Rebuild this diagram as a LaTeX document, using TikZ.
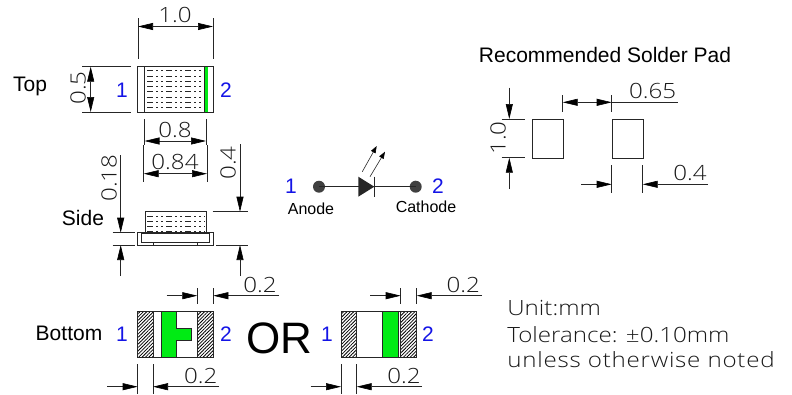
\documentclass[tikz,border=0pt]{standalone}
\usepackage{fontspec}
\setmainfont{Liberation Sans}
\newfontfamily\dimfont[FakeStretch=1.15]{Open Sans Light}
\usetikzlibrary{arrows.meta,patterns.meta}
\definecolor{ledgreen}{RGB}{0,235,20}
\definecolor{pinblue}{RGB}{20,20,230}

\begin{document}
\begin{tikzpicture}[x=1pt,y=-1pt,line width=0.7pt,color=black!85]
  \tikzstyle{dimline}=[line width=0.6pt,black!85]
  \tikzstyle{dimtip}=[dimline,-{Triangle[length=15pt,width=7pt,color=black,fill=black]}]
  \tikzstyle{dimboth}=[dimline,{Triangle[length=15pt,width=7pt,color=black,fill=black]}-{Triangle[length=15pt,width=7pt,color=black,fill=black]}]
  \tikzstyle{dimtext}=[inner sep=0pt,text=black!90,font=\dimfont\fontsize{21}{21}\selectfont]
  \tikzstyle{pinlabel}=[inner sep=0pt,text=pinblue,font=\fontsize{21}{21}\selectfont]
  \tikzstyle{viewlabel}=[inner sep=0pt,text=black,font=\fontsize{21}{21}\selectfont]
  \tikzstyle{smalllabel}=[inner sep=0pt,text=black,font=\fontsize{16}{16}\selectfont]
  \tikzstyle{fillrows}=[line width=0.6pt,black!85,dash pattern=on 6pt off 3pt on 2pt off 3pt on 2pt off 3pt]
  \tikzstyle{hatched}=[draw,line width=0.9pt,pattern={Lines[angle=45,distance=2.4pt,line width=0.8pt]},pattern color=black]
  \tikzstyle{note}=[inner sep=0pt,anchor=west,text=black!90,font=\dimfont\fontsize{21}{21}\selectfont]

  \useasboundingbox (0,0) rectangle (792,394);

  % top view
  \draw[line width=1pt] (137.7,66.7) rectangle (213.3,112);
  \draw[line width=1.2pt] (144.3,66.7) -- (144.3,112);
  \fill[ledgreen] (204,66.7) rectangle (207.5,112);
  \draw[line width=0.8pt] (204,66.7) -- (204,112);
  \foreach \y in {70.5,75.8,81,86.3,91.5,96.8,102,107.3}
    \draw[fillrows] (147,\y) -- (203,\y);

  \draw[dimline] (138,18) -- (138,59);
  \draw[dimline] (213,18) -- (213,59);
  \draw[dimboth] (138,26.5) -- (213,26.5);
  \node[dimtext] (top-w) at (175,15) {1.0};

  \draw[dimline] (82,66.7) -- (131,66.7);
  \draw[dimline] (82,112) -- (131,112);
  \draw[dimboth] (90.7,66.7) -- (90.7,112);
  \node[dimtext,rotate=90] (top-h) at (78,88) {0.5};

  \draw[dimline] (144.5,119) -- (144.5,145);
  \draw[dimline] (206,119) -- (206,145);
  \draw[dimboth] (144.5,141) -- (206,141);
  \node[dimtext] (top-in) at (175,130) {0.8};

  \draw[dimline] (143.7,145) -- (143.7,182);
  \draw[dimline] (207,145) -- (207,182);
  \draw[dimboth] (143.7,173.7) -- (207,173.7);
  \node[dimtext] (top-mid) at (175,162) {0.84};

  % side view
  \draw (145.3,233) -- (145.3,211) -- (206,211) -- (206,233);
  \foreach \y in {216,221,226,231}
    \draw[fillrows] (147,\y) -- (205,\y);
  \draw[line width=1pt] (137.7,232.7) rectangle (213.3,245);
  \draw[line width=0.8pt,fill=white] (141.7,233) rectangle (209.3,242.3);
  \draw[line width=0.8pt] (153.3,242.3) -- (153.3,245);
  \draw[line width=0.8pt] (197.3,242.3) -- (197.3,245);

  \draw[dimtip] (120.7,155) -- (120.7,232.7);
  \draw[dimtip] (120.7,276) -- (120.7,245);
  \draw[dimline] (112.7,232.7) -- (135,232.7);
  \draw[dimline] (112.7,245) -- (135,245);
  \node[dimtext,rotate=90] (side-gap) at (109,178) {0.18};

  \draw[dimtip] (240,144) -- (240,211.7);
  \draw[dimtip] (240,276) -- (240,245);
  \draw[dimline] (212.7,211.7) -- (248,211.7);
  \draw[dimline] (216,245) -- (248,245);
  \node[dimtext,rotate=90] (side-h) at (228,163) {0.4};

  % led symbol
  \fill[black!75] (319,186.7) circle (6);
  \fill[black!75] (415.7,186.7) circle (6);
  \draw (319,186.7) -- (415.7,186.7);
  \fill[black!85] (358.3,176.7) -- (374.3,186.7) -- (358.3,196.7) -- cycle;
  \draw (374.3,176.7) -- (374.3,196.7);
  \draw[dimline,-{Triangle[length=7pt,width=5pt,color=black,fill=black]}] (362.3,171.7) -- (376.7,146);
  \draw[dimline,-{Triangle[length=7pt,width=5pt,color=black,fill=black]}] (370,176.7) -- (385,151.7);
  \node[pinlabel] (sym-1) at (291,186) {1};
  \node[pinlabel] (sym-2) at (438,186) {2};
  \node[smalllabel] (anode) at (311,208.5) {Anode};
  \node[smalllabel] (cathode) at (426,206.5) {Cathode};

  % solder pad
  \node[inner sep=0pt,text=black,font=\fontsize{21}{21}\selectfont] (pad-title) at (605,55) {Recommended Solder Pad};
  \foreach \name/\x in {left/532.3, right/611.7}
    \node[draw,rectangle,minimum width=31pt,minimum height=38.7pt,anchor=north west,inner sep=0pt,line width=0.8pt] (pad-\name) at (\x,119) {};

  \draw[dimtip] (509.3,87.7) -- (509.3,119);
  \draw[dimtip] (509.3,189) -- (509.3,157.7);
  \draw[dimline] (501.7,119) -- (525,119);
  \draw[dimline] (501.7,157.7) -- (525,157.7);
  \node[dimtext,rotate=90] (pad-h) at (498,138) {1.0};

  \draw[dimline] (562.7,95) -- (562.7,111.7);
  \draw[dimline] (611.7,95) -- (611.7,111.7);
  \draw[dimboth] (562.7,102.3) -- (611.7,102.3);
  \draw[dimline] (611.7,102.3) -- (678,102.3);
  \node[dimtext] (pad-gap) at (652.7,91) {0.65};

  \draw[dimline] (611.7,165) -- (611.7,192.7);
  \draw[dimline] (642.7,165) -- (642.7,192.7);
  \draw[dimtip] (581,184.3) -- (611.7,184.3);
  \draw[dimtip] (708,184.3) -- (642.7,184.3);
  \node[dimtext] (pad-w) at (690,173) {0.4};

  % bottom views
  \draw[line width=1pt] (137.3,311.7) rectangle (213.3,357.3);
  \draw[hatched] (137.3,311.7) rectangle (153,357.3);
  \draw[hatched] (197.3,311.7) rectangle (213.3,357.3);
  \draw[line width=0.8pt,fill=ledgreen] (161.7,311.7) -- (176.7,311.7) -- (176.7,328.3) -- (191,328.3) -- (191,340) -- (176.7,340) -- (176.7,357.3) -- (161.7,357.3) -- cycle;

  \draw[line width=1pt] (341,311.7) rectangle (416.7,357.3);
  \draw[hatched] (341,311.7) rectangle (356.7,357.3);
  \draw[hatched] (400.7,311.7) rectangle (416.7,357.3);
  \draw[line width=0.8pt,fill=ledgreen] (382.7,311.7) rectangle (398.7,357.3);

  \foreach \a/\b/\from/\to/\txt in {197.3/213.3/166.7/279/260, 400.7/416.7/370/482/463.3}
    {
      \draw[dimline] (\a,288) -- (\a,304);
      \draw[dimline] (\b,288) -- (\b,304);
      \draw[dimtip] (\from,295.7) -- (\a,295.7);
      \draw[dimtip] (\to,295.7) -- (\b,295.7);
      \node[dimtext] (up-\a) at (\txt,285) {0.2};
    }

  \foreach \a/\b/\from/\to/\txt in {137.7/153/107/219/200.7, 341/356.7/310.7/422/404}
    {
      \draw[dimline] (\a,364) -- (\a,394);
      \draw[dimline] (\b,364) -- (\b,394);
      \draw[dimtip] (\from,386.7) -- (\a,386.7);
      \draw[dimtip] (\to,386.7) -- (\b,386.7);
      \node[dimtext] (low-\a) at (\txt,375.5) {0.2};
    }

  % labels
  \foreach \name/\x/\y/\text in {top-1/122/90/1, top-2/226/90/2, bot-1/122/334/1, bot-2/226/334/2, alt-1/327/334/1, alt-2/428/334/2}
    \node[pinlabel] (\name) at (\x,\y) {\text};
  \foreach \name/\x/\y/\text in {top/30/86/Top, side/83/218/Side, bottom/69/333/Bottom}
    \node[viewlabel] (\name) at (\x,\y) {\text};
  \node[inner sep=0pt,text=black,font=\fontsize{44}{44}\selectfont] (or) at (279,338) {OR};

  \node[note] (unit) at (507,308) {Unit:mm};
  \node[note] (tol) at (507,335) {Tolerance: ±0.10mm};
  \node[note] (unless) at (507,360) {\addfontfeature{LetterSpace=3.6}unless otherwise noted};
\end{tikzpicture}
\end{document}
